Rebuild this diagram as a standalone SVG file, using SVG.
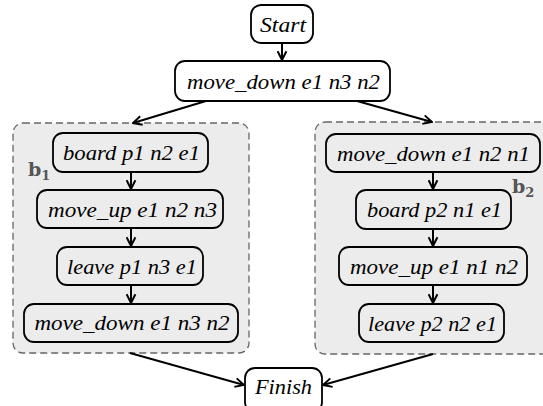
<svg xmlns="http://www.w3.org/2000/svg" width="543" height="406" viewBox="0 0 543 406">
<style>
.n{fill:#fff;stroke:#000;stroke-width:1.8}
.g{fill:#ececec;stroke:#000;stroke-width:1.8}
.c{fill:#ececec;stroke:#666;stroke-width:1.3;stroke-dasharray:7 4}
.t{font-family:"Liberation Serif",serif;font-style:italic;font-size:22px;text-anchor:middle;fill:#000}
.b{font-family:"DejaVu Serif",serif;font-weight:bold;font-size:19px;fill:#555}
.e{fill:none;stroke:#000;stroke-width:2;marker-end:url(#a)}
</style>
<defs>
<marker id="a" viewBox="0 0 10 10" refX="9" refY="5" markerWidth="11" markerHeight="11" markerUnits="userSpaceOnUse" orient="auto">
<path d="M1,1 L9,5 L1,9" fill="none" stroke="#000" stroke-width="1.8"/>
</marker>
</defs>
<g id="cluster_b1">
<rect class="c" x="13" y="123" width="236" height="230" rx="10"/>
<text class="b" x="28" y="176">b<tspan font-size="13" dy="4">1</tspan></text>
</g>
<g id="cluster_b2">
<rect class="c" x="315" y="122" width="240" height="232" rx="10"/>
<text class="b" x="512" y="193">b<tspan font-size="13" dy="4">2</tspan></text>
</g>
<g id="start"><rect class="n" x="251" y="5" width="62" height="38" rx="10"/><text class="t" x="283" y="32" textLength="46" lengthAdjust="spacingAndGlyphs">Start</text></g>
<g id="top_move_down"><rect class="n" x="175" y="61" width="215" height="40" rx="10"/><text class="t" x="283.5" y="89" textLength="193" lengthAdjust="spacingAndGlyphs">move_down e1 n3 n2</text></g>
<g id="l_board"><rect class="g" x="53" y="133" width="155" height="39" rx="10"/><text class="t" x="131.5" y="160" textLength="137" lengthAdjust="spacingAndGlyphs">board p1 n2 e1</text></g>
<g id="l_move_up"><rect class="g" x="37" y="190" width="186" height="38" rx="10"/><text class="t" x="132.5" y="216.5" textLength="169" lengthAdjust="spacingAndGlyphs">move_up e1 n2 n3</text></g>
<g id="l_leave"><rect class="g" x="57" y="247" width="146" height="38" rx="10"/><text class="t" x="132" y="273.5" textLength="130" lengthAdjust="spacingAndGlyphs">leave p1 n3 e1</text></g>
<g id="l_move_down"><rect class="g" x="24" y="304" width="214" height="38" rx="10"/><text class="t" x="132" y="330" textLength="195" lengthAdjust="spacingAndGlyphs">move_down e1 n3 n2</text></g>
<g id="r_move_down"><rect class="g" x="326" y="134" width="214" height="38" rx="10"/><text class="t" x="433.5" y="160.5" textLength="193" lengthAdjust="spacingAndGlyphs">move_down e1 n2 n1</text></g>
<g id="r_board"><rect class="g" x="356" y="190" width="155" height="39" rx="10"/><text class="t" x="434.5" y="217" textLength="135" lengthAdjust="spacingAndGlyphs">board p2 n1 e1</text></g>
<g id="r_move_up"><rect class="g" x="339" y="247" width="188" height="38" rx="10"/><text class="t" x="434" y="273.5" textLength="168" lengthAdjust="spacingAndGlyphs">move_up e1 n1 n2</text></g>
<g id="r_leave"><rect class="g" x="359" y="304" width="145" height="38" rx="10"/><text class="t" x="432.5" y="330.5" textLength="129" lengthAdjust="spacingAndGlyphs">leave p2 n2 e1</text></g>
<g id="finish"><rect class="n" x="245" y="368" width="77" height="44" rx="10"/><text class="t" x="283.5" y="394" textLength="57" lengthAdjust="spacingAndGlyphs">Finish</text></g>
<g id="connectors">
<path class="e" d="M282,43 L282,60"/>
<path class="e" d="M206,101 L133,123"/>
<path class="e" d="M357,101 L432,122"/>
<path class="e" d="M131,172 L131,189"/>
<path class="e" d="M131,228 L131,246"/>
<path class="e" d="M131,285 L131,303"/>
<path class="e" d="M433,172 L433,189"/>
<path class="e" d="M433,229 L433,246"/>
<path class="e" d="M433,285 L433,303"/>
<path class="e" d="M130,353 L244,385"/>
<path class="e" d="M433,354 L323,385"/>
</g>
</svg>
